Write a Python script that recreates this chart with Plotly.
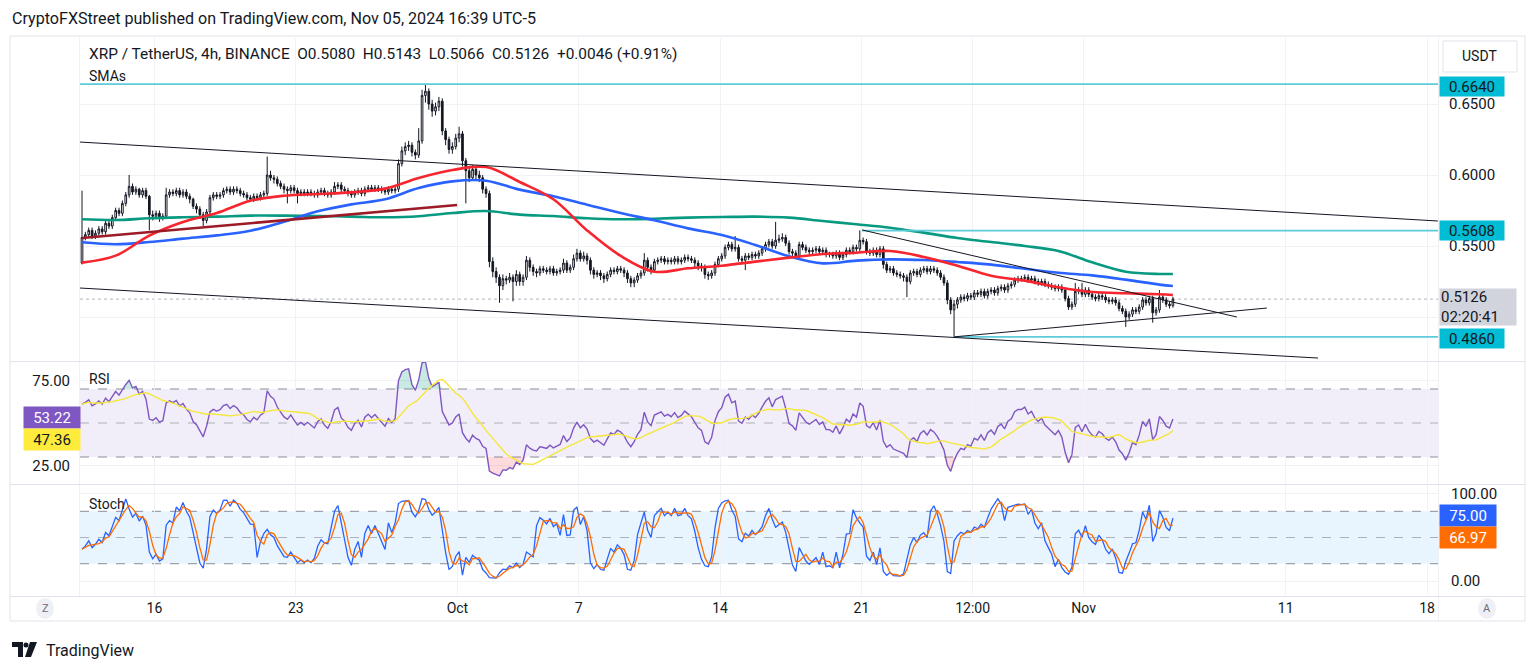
import numpy as np
import pandas as pd
import plotly.graph_objects as go

# ---------------- data ----------------
FIRST_BAR = pd.Timestamp("2024-09-12 15:00")
BAR_HOURS = 4
OPEN0 = 0.538

CLOSE = [
    0.556, 0.558, 0.561, 0.557, 0.559, 0.562, 0.560, 0.566, 0.564, 0.570,
    0.575, 0.573, 0.580, 0.586, 0.592, 0.588, 0.590, 0.586, 0.589, 0.585,
    0.572, 0.571, 0.573, 0.570, 0.571, 0.586, 0.588, 0.587, 0.589, 0.586,
    0.588, 0.585, 0.583, 0.578, 0.576, 0.572, 0.568, 0.574, 0.584, 0.586,
    0.585, 0.586, 0.589, 0.590, 0.588, 0.590, 0.589, 0.587, 0.586, 0.584,
    0.583, 0.585, 0.584, 0.586, 0.587, 0.600, 0.598, 0.597, 0.594, 0.592,
    0.590, 0.589, 0.591, 0.589, 0.587, 0.588, 0.587, 0.588, 0.587, 0.586,
    0.588, 0.589, 0.587, 0.586, 0.588, 0.592, 0.593, 0.590, 0.589, 0.587,
    0.586, 0.588, 0.589, 0.587, 0.590, 0.591, 0.590, 0.591, 0.590, 0.589,
    0.588, 0.590, 0.589, 0.590, 0.608, 0.617, 0.620, 0.621, 0.616, 0.614,
    0.624, 0.656, 0.659, 0.650, 0.645, 0.648, 0.652, 0.631, 0.625, 0.618,
    0.620, 0.626, 0.629, 0.610, 0.603, 0.598, 0.604, 0.600, 0.598, 0.590,
    0.587, 0.539, 0.532, 0.528, 0.522, 0.527, 0.526, 0.528, 0.525, 0.530,
    0.525, 0.528, 0.540, 0.535, 0.532, 0.531, 0.534, 0.533, 0.532, 0.534,
    0.531, 0.532, 0.533, 0.538, 0.533, 0.535, 0.541, 0.545, 0.541, 0.543,
    0.540, 0.533, 0.530, 0.531, 0.529, 0.527, 0.530, 0.533, 0.532, 0.534,
    0.533, 0.531, 0.527, 0.524, 0.526, 0.529, 0.531, 0.540, 0.535, 0.533,
    0.539, 0.540, 0.541, 0.539, 0.540, 0.539, 0.541, 0.539, 0.540, 0.542,
    0.541, 0.540, 0.538, 0.536, 0.535, 0.530, 0.529, 0.531, 0.537, 0.541,
    0.543, 0.549, 0.551, 0.548, 0.549, 0.541, 0.540, 0.543, 0.542, 0.544,
    0.543, 0.545, 0.548, 0.551, 0.553, 0.550, 0.554, 0.555, 0.556, 0.552,
    0.546, 0.545, 0.543, 0.551, 0.549, 0.547, 0.546, 0.547, 0.548, 0.546,
    0.547, 0.544, 0.544, 0.543, 0.545, 0.542, 0.544, 0.547, 0.546, 0.549,
    0.548, 0.554, 0.553, 0.546, 0.545, 0.547, 0.544, 0.548, 0.537, 0.533,
    0.534, 0.531, 0.530, 0.529, 0.528, 0.525, 0.531, 0.532, 0.530, 0.533,
    0.534, 0.532, 0.534, 0.533, 0.531, 0.528, 0.524, 0.512, 0.505, 0.509,
    0.512, 0.514, 0.513, 0.515, 0.514, 0.517, 0.516, 0.518, 0.515, 0.518,
    0.519, 0.517, 0.520, 0.521, 0.519, 0.522, 0.523, 0.526, 0.527, 0.527,
    0.528, 0.526, 0.527, 0.525, 0.524, 0.525, 0.523, 0.522, 0.521, 0.520,
    0.521, 0.519, 0.513, 0.507, 0.509, 0.518, 0.519, 0.516, 0.519, 0.516,
    0.514, 0.513, 0.515, 0.514, 0.512, 0.511, 0.512, 0.510, 0.506, 0.504,
    0.500, 0.502, 0.505, 0.504, 0.507, 0.512, 0.510, 0.513, 0.503, 0.505,
    0.514, 0.512, 0.509, 0.508, 0.5126,
]

HIGH = [
    0.589, 0.560, 0.563, 0.563, 0.561, 0.564, 0.564, 0.568, 0.568, 0.572,
    0.577, 0.577, 0.582, 0.588, 0.600, 0.594, 0.592, 0.591, 0.591, 0.591,
    0.586, 0.575, 0.575, 0.575, 0.573, 0.591, 0.590, 0.590, 0.591, 0.591,
    0.590, 0.590, 0.587, 0.584, 0.580, 0.578, 0.574, 0.576, 0.586, 0.588,
    0.588, 0.588, 0.591, 0.592, 0.592, 0.592, 0.592, 0.591, 0.589, 0.588,
    0.586, 0.587, 0.587, 0.588, 0.589, 0.613, 0.603, 0.600, 0.599, 0.596,
    0.594, 0.592, 0.593, 0.593, 0.591, 0.590, 0.590, 0.590, 0.590, 0.589,
    0.590, 0.591, 0.591, 0.589, 0.590, 0.595, 0.595, 0.595, 0.592, 0.591,
    0.589, 0.590, 0.591, 0.591, 0.592, 0.593, 0.593, 0.593, 0.593, 0.592,
    0.591, 0.592, 0.592, 0.592, 0.611, 0.620, 0.623, 0.624, 0.623, 0.618,
    0.633, 0.660, 0.664, 0.661, 0.653, 0.651, 0.655, 0.654, 0.633, 0.627,
    0.623, 0.629, 0.634, 0.631, 0.612, 0.606, 0.607, 0.606, 0.603, 0.600,
    0.592, 0.589, 0.542, 0.535, 0.530, 0.530, 0.529, 0.531, 0.530, 0.533,
    0.532, 0.530, 0.543, 0.542, 0.537, 0.534, 0.536, 0.536, 0.535, 0.536,
    0.536, 0.534, 0.535, 0.541, 0.540, 0.537, 0.544, 0.548, 0.547, 0.546,
    0.545, 0.542, 0.535, 0.533, 0.533, 0.531, 0.532, 0.535, 0.535, 0.536,
    0.536, 0.535, 0.533, 0.529, 0.528, 0.531, 0.533, 0.545, 0.542, 0.537,
    0.541, 0.542, 0.543, 0.543, 0.542, 0.542, 0.543, 0.543, 0.542, 0.544,
    0.544, 0.543, 0.542, 0.540, 0.538, 0.537, 0.532, 0.533, 0.539, 0.543,
    0.545, 0.551, 0.553, 0.553, 0.557, 0.551, 0.543, 0.545, 0.545, 0.546,
    0.546, 0.547, 0.550, 0.553, 0.555, 0.555, 0.567, 0.558, 0.559, 0.558,
    0.554, 0.548, 0.547, 0.553, 0.553, 0.551, 0.549, 0.549, 0.550, 0.550,
    0.549, 0.549, 0.546, 0.546, 0.547, 0.547, 0.546, 0.549, 0.549, 0.551,
    0.551, 0.561, 0.556, 0.555, 0.548, 0.549, 0.549, 0.550, 0.550, 0.539,
    0.536, 0.536, 0.533, 0.532, 0.531, 0.530, 0.533, 0.534, 0.534, 0.535,
    0.536, 0.536, 0.536, 0.536, 0.535, 0.533, 0.530, 0.526, 0.514, 0.512,
    0.514, 0.516, 0.516, 0.517, 0.517, 0.519, 0.519, 0.520, 0.520, 0.520,
    0.521, 0.521, 0.522, 0.523, 0.523, 0.524, 0.525, 0.528, 0.529, 0.529,
    0.530, 0.530, 0.529, 0.529, 0.527, 0.527, 0.527, 0.525, 0.524, 0.523,
    0.523, 0.523, 0.521, 0.515, 0.511, 0.524, 0.521, 0.524, 0.521, 0.521,
    0.518, 0.516, 0.517, 0.517, 0.516, 0.514, 0.514, 0.514, 0.512, 0.508,
    0.506, 0.504, 0.507, 0.507, 0.509, 0.514, 0.514, 0.515, 0.515, 0.507,
    0.519, 0.516, 0.514, 0.511, 0.5143,
]

LOW = [
    0.537, 0.554, 0.556, 0.555, 0.555, 0.557, 0.558, 0.558, 0.562, 0.562,
    0.568, 0.571, 0.571, 0.578, 0.584, 0.586, 0.586, 0.584, 0.584, 0.583,
    0.561, 0.568, 0.569, 0.567, 0.568, 0.569, 0.584, 0.585, 0.585, 0.584,
    0.584, 0.583, 0.580, 0.576, 0.573, 0.569, 0.564, 0.566, 0.572, 0.582,
    0.583, 0.583, 0.584, 0.587, 0.586, 0.586, 0.587, 0.585, 0.584, 0.582,
    0.581, 0.581, 0.582, 0.582, 0.584, 0.585, 0.596, 0.594, 0.592, 0.590,
    0.587, 0.580, 0.587, 0.587, 0.580, 0.585, 0.585, 0.585, 0.585, 0.584,
    0.584, 0.586, 0.585, 0.584, 0.584, 0.586, 0.590, 0.588, 0.587, 0.585,
    0.584, 0.584, 0.586, 0.585, 0.585, 0.588, 0.588, 0.588, 0.588, 0.587,
    0.586, 0.586, 0.587, 0.587, 0.588, 0.606, 0.614, 0.617, 0.613, 0.611,
    0.612, 0.622, 0.651, 0.646, 0.641, 0.642, 0.645, 0.628, 0.621, 0.615,
    0.615, 0.618, 0.623, 0.606, 0.580, 0.595, 0.596, 0.597, 0.595, 0.587,
    0.584, 0.535, 0.528, 0.524, 0.510, 0.519, 0.523, 0.524, 0.511, 0.522,
    0.522, 0.522, 0.526, 0.532, 0.529, 0.528, 0.529, 0.531, 0.530, 0.530,
    0.529, 0.529, 0.530, 0.531, 0.531, 0.531, 0.533, 0.539, 0.539, 0.539,
    0.537, 0.530, 0.527, 0.528, 0.526, 0.524, 0.525, 0.528, 0.530, 0.530,
    0.531, 0.528, 0.524, 0.521, 0.521, 0.524, 0.527, 0.529, 0.532, 0.530,
    0.531, 0.537, 0.538, 0.537, 0.537, 0.537, 0.537, 0.537, 0.537, 0.538,
    0.539, 0.538, 0.535, 0.533, 0.532, 0.527, 0.526, 0.527, 0.529, 0.535,
    0.539, 0.541, 0.547, 0.546, 0.546, 0.539, 0.537, 0.533, 0.540, 0.540,
    0.541, 0.541, 0.543, 0.546, 0.549, 0.548, 0.548, 0.552, 0.553, 0.550,
    0.544, 0.543, 0.541, 0.541, 0.547, 0.545, 0.544, 0.544, 0.545, 0.544,
    0.544, 0.542, 0.542, 0.541, 0.541, 0.540, 0.540, 0.542, 0.544, 0.544,
    0.546, 0.546, 0.551, 0.544, 0.543, 0.543, 0.542, 0.542, 0.534, 0.531,
    0.531, 0.529, 0.528, 0.527, 0.525, 0.514, 0.523, 0.529, 0.528, 0.528,
    0.531, 0.530, 0.530, 0.531, 0.529, 0.526, 0.522, 0.509, 0.502, 0.486,
    0.506, 0.510, 0.511, 0.511, 0.512, 0.512, 0.514, 0.514, 0.513, 0.513,
    0.516, 0.515, 0.515, 0.518, 0.517, 0.517, 0.520, 0.521, 0.524, 0.525,
    0.525, 0.524, 0.524, 0.523, 0.522, 0.522, 0.521, 0.520, 0.519, 0.518,
    0.518, 0.517, 0.511, 0.505, 0.505, 0.507, 0.516, 0.514, 0.514, 0.514,
    0.512, 0.511, 0.511, 0.512, 0.510, 0.509, 0.509, 0.508, 0.504, 0.502,
    0.493, 0.498, 0.500, 0.502, 0.502, 0.505, 0.508, 0.508, 0.496, 0.501,
    0.503, 0.510, 0.507, 0.506, 0.5066,
]

SMA_BARS = list(range(0, 321, 10)) + [324]
SMA_RED = [0.5383, 0.5432, 0.5573, 0.5669, 0.5732, 0.5819, 0.5854, 0.5866, 0.5878, 0.5904,
           0.5979, 0.6035, 0.6056, 0.5951, 0.5829, 0.5610, 0.5430, 0.5319, 0.5343, 0.5361,
           0.5390, 0.5418, 0.5444, 0.5453, 0.5465, 0.5423, 0.5361, 0.5291, 0.5256, 0.5209,
           0.5176, 0.5167, 0.5160, 0.5155]
SMA_BLUE = [0.5526, 0.5512, 0.5528, 0.5552, 0.5575, 0.5608, 0.5671, 0.5744, 0.5793, 0.5829,
            0.5908, 0.5955, 0.5960, 0.5897, 0.5850, 0.5791, 0.5732, 0.5681, 0.5624, 0.5577,
            0.5507, 0.5427, 0.5378, 0.5397, 0.5406, 0.5401, 0.5387, 0.5369, 0.5340, 0.5312,
            0.5293, 0.5263, 0.5228, 0.5218]
SMA_GREEN = [0.5688, 0.5683, 0.5695, 0.5702, 0.5707, 0.5714, 0.5714, 0.5711, 0.5707, 0.5702,
             0.5709, 0.5732, 0.5746, 0.5721, 0.5711, 0.5695, 0.5688, 0.5692, 0.5700, 0.5704,
             0.5707, 0.5700, 0.5676, 0.5653, 0.5629, 0.5594, 0.5556, 0.5528, 0.5500, 0.5465,
             0.5385, 0.5319, 0.5303, 0.5303]

# drawings: (bar index, price) endpoints
CHANNEL_TOP = [(-0.6, 0.6232), (402.7, 0.5676)]
CHANNEL_BOTTOM = [(-0.6, 0.5204), (367.1, 0.4711)]
RED_TREND = [(0.0, 0.5556), (111.4, 0.5789)]
WEDGE_TOP = [(231.7, 0.5613), (343.0, 0.5000)]
WEDGE_BOTTOM = [(259.0, 0.4860), (351.9, 0.5063)]
LEVELS = [(0.6640, -0.6), (0.5608, 231.7), (0.4860, 259.0)]
LAST_PRICE = 0.5126

TIME_TICK_BARS = [21.5, 63.5, 111.5, 147.5, 189.5, 231.5, 264.5, 297.5, 357.5, 399.5]
TIME_TICK_TEXT = ["16", "23", "Oct", "7", "14", "21", "12:00", "Nov", "11", "18"]
PRICE_TICKS = [0.50, 0.55, 0.60, 0.65]
PRICE_TICK_TEXT = ["", "0.5500", "0.6000", "0.6500"]   # 0.5000 sits under the last-price badge

HEADER = "CryptoFXStreet published on TradingView.com, Nov 05, 2024 16:39 UTC-5"
LEGEND = "XRP / TetherUS, 4h, BINANCE  O0.5080  H0.5143  L0.5066  C0.5126  +0.0046 (+0.91%)"
RSI_NOW, RSI_MA_NOW = "53.22", "47.36"
K_NOW, D_NOW = "75.00", "66.97"

# ---------------- layout geometry ----------------
W, H = 1536, 672
PL, PR, PT, PB = 80, 1438, 38, 595
X_LEFT_BAR, X_RIGHT_BAR = -0.594, 402.73
FONT = "Roboto"
TXT = "#131722"


def bt(i):
    return (FIRST_BAR + pd.Timedelta(hours=BAR_HOURS * i)).strftime("%Y-%m-%d %H:%M:%S")


def fx(px):
    return (px - PL) / (PR - PL)


def fy(py):
    return (PB - py) / (PB - PT)


n = len(CLOSE)
t = [bt(i) for i in range(n)]
c = np.array(CLOSE)
o = np.r_[OPEN0, c[:-1]]
h = np.array(HIGH)
lo = np.array(LOW)

# RSI (14, Wilder); warm-up seeded neutral (equal average gain and loss)
d = np.diff(np.r_[OPEN0, c])
gain, loss = np.clip(d, 0, None), np.clip(-d, 0, None)
seed = np.abs(d[:14]).mean() / 2
ag, al = seed, seed
rsi = []
for g, l_ in zip(gain, loss):
    ag = (ag * 13 + g) / 14
    al = (al * 13 + l_) / 14
    rsi.append(100 - 100 / (1 + ag / al) if al > 0 else 100)
rsi = np.array(rsi)
rsi_ma = pd.Series(rsi).rolling(14, min_periods=1).mean().values

# Stochastic (14, 1, 3)
hh = pd.Series(h).rolling(14, min_periods=1).max().values
ll = pd.Series(lo).rolling(14, min_periods=1).min().values
k = 100 * (c - ll) / (hh - ll)
dd = pd.Series(k).rolling(3, min_periods=1).mean().values

fig = go.Figure()

fig.add_trace(go.Candlestick(
    x=t, open=o, high=h, low=lo, close=c, xaxis="x", yaxis="y",
    increasing=dict(line=dict(color=TXT, width=1), fillcolor="white"),
    decreasing=dict(line=dict(color=TXT, width=1), fillcolor=TXT),
    whiskerwidth=0, hoverinfo="skip"))

sx = [bt(i) for i in SMA_BARS]
for vals, col in [(SMA_GREEN, "#089981"), (SMA_BLUE, "#2962FF"), (SMA_RED, "#F7252E")]:
    fig.add_trace(go.Scatter(x=sx, y=vals, mode="lines", yaxis="y",
                             line=dict(color=col, width=2.6, shape="spline", smoothing=1.0),
                             hoverinfo="skip"))

# RSI pane
fig.add_trace(go.Scatter(x=t, y=np.full(n, 70.0), yaxis="y2", mode="lines",
                         line=dict(width=0), hoverinfo="skip"))
fig.add_trace(go.Scatter(x=t, y=np.maximum(rsi, 70), yaxis="y2", mode="lines",
                         line=dict(width=0), fill="tonexty",
                         fillcolor="rgba(8,153,129,0.22)", hoverinfo="skip"))
fig.add_trace(go.Scatter(x=t, y=np.full(n, 30.0), yaxis="y2", mode="lines",
                         line=dict(width=0), hoverinfo="skip"))
fig.add_trace(go.Scatter(x=t, y=np.minimum(rsi, 30), yaxis="y2", mode="lines",
                         line=dict(width=0), fill="tonexty",
                         fillcolor="rgba(242,54,69,0.18)", hoverinfo="skip"))
fig.add_trace(go.Scatter(x=t, y=rsi, yaxis="y2", mode="lines",
                         line=dict(color="#7E57C2", width=1.4), hoverinfo="skip"))
fig.add_trace(go.Scatter(x=t, y=rsi_ma, yaxis="y2", mode="lines",
                         line=dict(color="#F5E63A", width=1.4), hoverinfo="skip"))

# Stoch pane
fig.add_trace(go.Scatter(x=t, y=k, yaxis="y3", mode="lines",
                         line=dict(color="#2962FF", width=1.3), hoverinfo="skip"))
fig.add_trace(go.Scatter(x=t, y=dd, yaxis="y3", mode="lines",
                         line=dict(color="#FF6D00", width=1.3), hoverinfo="skip"))

shapes = []
shapes.append(dict(type="rect", xref="paper", yref="y2", x0=0, x1=1, y0=30, y1=70,
                   fillcolor="rgba(126,87,194,0.10)", line=dict(width=0), layer="below"))
shapes.append(dict(type="rect", xref="paper", yref="y3", x0=0, x1=1, y0=20, y1=80,
                   fillcolor="rgba(33,150,243,0.10)", line=dict(width=0), layer="below"))
for yv, ax, col in [(70, "y2", "#8A8D96"), (50, "y2", "rgba(120,123,134,0.55)"), (30, "y2", "#8A8D96"),
                    (80, "y3", "#8A8D96"), (50, "y3", "rgba(120,123,134,0.55)"), (20, "y3", "#8A8D96")]:
    shapes.append(dict(type="line", xref="paper", yref=ax, x0=0, x1=1, y0=yv, y1=yv,
                       line=dict(color=col, width=1, dash="dash"), layer="below"))
shapes.append(dict(type="line", xref="paper", yref="y", x0=0, x1=1, y0=LAST_PRICE, y1=LAST_PRICE,
                   line=dict(color="#B2B5BE", width=1, dash="dot"), layer="below"))
for price, start in LEVELS:
    shapes.append(dict(type="line", xref="x", yref="y", x0=bt(start), x1=bt(X_RIGHT_BAR),
                       y0=price, y1=price, line=dict(color="#5CCBDA", width=1.6)))
for (a, b), col, wd in [(CHANNEL_TOP, TXT, 1), (CHANNEL_BOTTOM, TXT, 1), (WEDGE_TOP, TXT, 1),
                        (WEDGE_BOTTOM, TXT, 1), (RED_TREND, "#9C1B27", 2.6)]:
    shapes.append(dict(type="line", xref="x", yref="y", x0=bt(a[0]), y0=a[1], x1=bt(b[0]), y1=b[1],
                       line=dict(color=col, width=wd)))

FR = "#E0E3EB"
shapes.append(dict(type="rect", xref="paper", yref="paper", x0=fx(10), x1=fx(1525), y0=fy(621), y1=fy(36),
                   line=dict(color=FR, width=1), fillcolor="rgba(0,0,0,0)", layer="below"))
for yy in [361.5, 484.5, 596.5]:
    shapes.append(dict(type="line", xref="paper", yref="paper", x0=fx(10), x1=fx(1525), y0=fy(yy), y1=fy(yy),
                       line=dict(color=FR, width=1)))
shapes.append(dict(type="line", xref="paper", yref="paper", x0=fx(79.5), x1=fx(79.5), y0=fy(596), y1=fy(36),
                   line=dict(color="#F0F1F4", width=1), layer="below"))
shapes.append(dict(type="line", xref="paper", yref="paper", x0=fx(1438.5), x1=fx(1438.5), y0=fy(621), y1=fy(36),
                   line=dict(color="#EEF0F3", width=1), layer="below"))
shapes.append(dict(type="rect", xref="paper", yref="paper", x0=fx(1443), x1=fx(1517), y0=fy(72), y1=fy(41),
                   line=dict(color=FR, width=1), fillcolor="white"))
for cx in [45, 1487]:
    shapes.append(dict(type="circle", xref="paper", yref="paper", x0=fx(cx - 9), x1=fx(cx + 9),
                       y0=fy(619), y1=fy(598), line=dict(width=0), fillcolor="#EEF0F5"))
logo_T = "M {},{} L {},{} L {},{} L {},{} L {},{} L {},{} Z".format(
    fx(12), fy(642), fx(23), fy(642), fx(23), fy(657), fx(18), fy(657), fx(18), fy(647), fx(12), fy(647))
logo_V = "M {},{} L {},{} L {},{} L {},{} Z".format(
    fx(30), fy(642), fx(37), fy(642), fx(31), fy(657), fx(25), fy(657))
shapes.append(dict(type="path", xref="paper", yref="paper", path=logo_T, fillcolor=TXT, line=dict(width=0)))
shapes.append(dict(type="path", xref="paper", yref="paper", path=logo_V, fillcolor=TXT, line=dict(width=0)))
shapes.append(dict(type="circle", xref="paper", yref="paper", x0=fx(23.5), x1=fx(28.5), y0=fy(647.5),
                   y1=fy(642.5), fillcolor=TXT, line=dict(width=0)))

ann = []


def text(px, py, s, size=14, color=TXT, xanchor="left", **kw):
    ann.append(dict(xref="paper", yref="paper", x=fx(px), y=fy(py), text=s, showarrow=False,
                    xanchor=xanchor, yanchor="middle", font=dict(family=FONT, size=size, color=color), **kw))


NB = "\u00a0"
text(10, 18, HEADER, 16.1)
text(87, 54, LEGEND.replace("  ", NB + NB), 15.4)
text(87, 76, "SMAs", 14)
text(87, 379, "RSI", 14)
text(87, 504, "Stoch", 14)
text(1480, 56, "USDT", 14, xanchor="center")
text(45, 608, "Z", 11, color="#6A6D78", xanchor="center")
text(1487, 608, "A", 11, color="#6A6D78", xanchor="center")
text(44, 650, "TradingView", 16)


def badge(yref, yv, s, bg, fg, x_px, width, height=17, yshift=0, size=15):
    ann.append(dict(xref="paper", yref=yref, x=fx(x_px), y=yv, text=s, showarrow=False,
                    xanchor="left", yanchor="middle", yshift=yshift, bgcolor=bg, width=width,
                    height=height, align="center", borderpad=1,
                    font=dict(family=FONT, size=size, color=fg)))


badge("y", 0.6640, "0.6640", "#00BCD4", TXT, 1439, 62, yshift=-2)
badge("y", 0.5608, "0.5608", "#00BCD4", TXT, 1439, 62)
badge("y", 0.4860, "0.4860", "#00BCD4", TXT, 1439, 62, yshift=-1.5)
ann.append(dict(xref="paper", yref="y", x=fx(1439), y=LAST_PRICE, text="0.5126<br>02:20:41",
                showarrow=False, xanchor="left", yanchor="middle", yshift=-8, bgcolor="#D1D4DC",
                width=74, height=34, align="left", borderpad=1,
                font=dict(family=FONT, size=15, color=TXT)))
badge("y2", float(RSI_NOW), RSI_NOW, "#7E57C2", "white", 23, 54, height=19)
badge("y2", float(RSI_NOW), RSI_MA_NOW, "#FFEB3B", TXT, 23, 54, height=19, yshift=-22)
badge("y3", float(K_NOW), K_NOW, "#2962FF", "white", 1439, 54, height=19)
badge("y3", float(K_NOW), D_NOW, "#FF6D00", "white", 1439, 54, height=19, yshift=-22)

GRID = "#F1F2F5"
fig.update_layout(
    width=W, height=H, margin=dict(l=PL, r=W - PR, t=PT, b=H - PB),
    paper_bgcolor="white", plot_bgcolor="white", showlegend=False, hovermode=False,
    font=dict(family=FONT, color=TXT),
    xaxis=dict(type="date", anchor="y3", range=[bt(X_LEFT_BAR), bt(X_RIGHT_BAR)],
               tickvals=[bt(b) for b in TIME_TICK_BARS], ticktext=TIME_TICK_TEXT,
               showgrid=True, gridcolor=GRID, zeroline=False, showline=False, ticks="",
               tickfont=dict(family=FONT, size=14, color=TXT), rangeslider=dict(visible=False),
               ticklabelstandoff=3),
    yaxis=dict(domain=[fy(360), 1], range=[0.46972, 0.69648], side="right", anchor="x",
               tickvals=PRICE_TICKS, ticktext=PRICE_TICK_TEXT,
               showgrid=True, gridcolor=GRID, zeroline=False, ticks="",
               tickfont=dict(family=FONT, size=15, color=TXT), ticklabelstandoff=10),
    yaxis2=dict(domain=[fy(483), fy(362)], range=[14.71, 85.88], side="left", anchor="x",
                tickvals=[25, 75], ticktext=["25.00", "75.00"], showgrid=True, gridcolor=GRID,
                zeroline=False, ticks="", tickfont=dict(family=FONT, size=15, color=TXT),
                ticklabelstandoff=9),
    yaxis3=dict(domain=[0, fy(485)], range=[-15.8, 110.1], side="right", anchor="x",
                tickvals=[0, 100], ticktext=["0.00", "100.00"], showgrid=True, gridcolor=GRID,
                zeroline=False, ticks="", tickfont=dict(family=FONT, size=15, color=TXT),
                ticklabelstandoff=12),
    shapes=shapes, annotations=ann,
)

fig.write_html("out.html", config={"displayModeBar": False},
               post_script="document.body.style.margin='0';document.body.style.overflow='hidden';")
